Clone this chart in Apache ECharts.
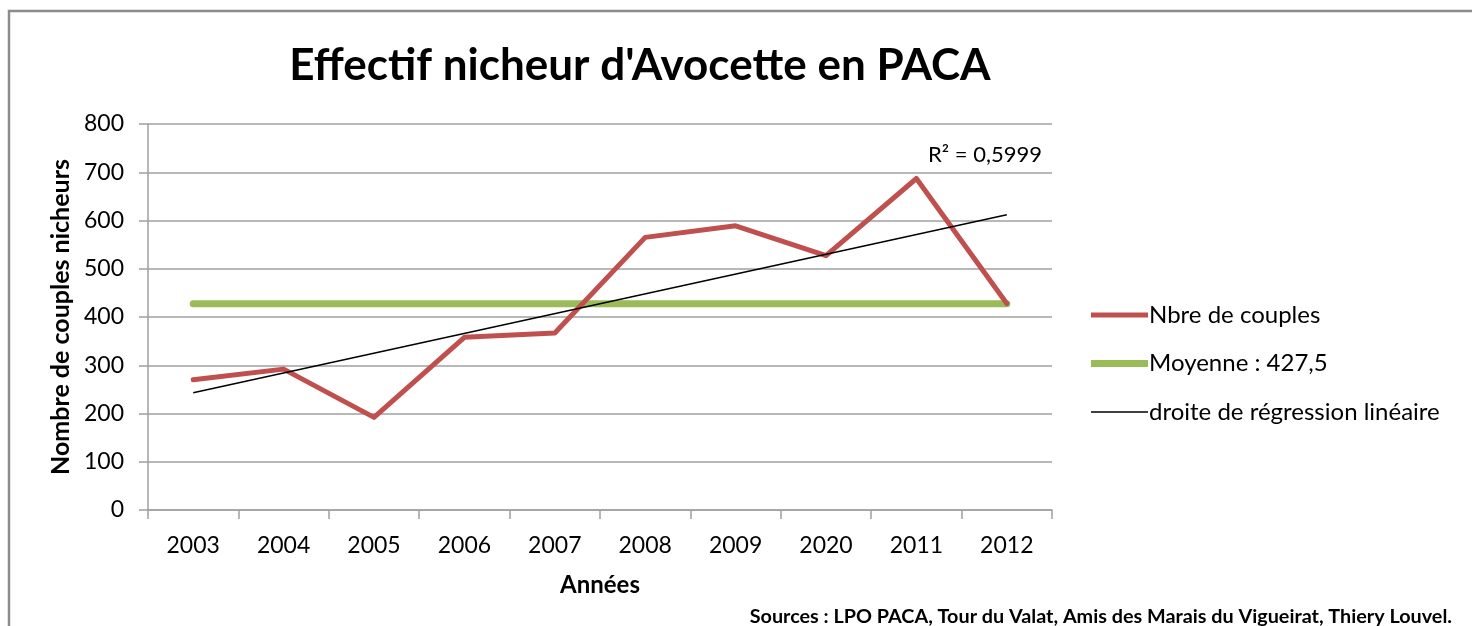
<!DOCTYPE html>
<html>
<head>
<meta charset="utf-8">
<script src="https://cdn.jsdelivr.net/npm/echarts@6/dist/echarts.min.js"></script>
<style>
  html, body { margin: 0; padding: 0; background: #fff; }
  #chart { width: 1472px; height: 626px; }
</style>
</head>
<body>
<div id="chart"></div>
<script>
  // annees (le 2020 est tel quel dans l'original)
  var years = ['2003', '2004', '2005', '2006', '2007', '2008', '2009', '2020', '2011', '2012'];
  // nombre de couples nicheurs
  var couples = [270, 292, 192, 358, 367, 565, 589, 527, 687, 428];
  var moyenne = 427.5;
  // droite de regression : valeurs lues au debut et a la fin
  var regStart = 243;
  var regEnd = 612;
  var yTicks = [0, 100, 200, 300, 400, 500, 600, 700, 800];

  var font = 'Lato';
  var grey = '#a0a0a0';

  var myChart = echarts.init(document.getElementById('chart'));
  option = {
    animation: false,
    backgroundColor: '#fff',
    title: {
      text: "Effectif nicheur d'Avocette en PACA",
      left: 635,
      textAlign: 'center',
      top: 39,
      textStyle: { fontFamily: font, fontWeight: 'bold', fontSize: 44, color: '#000' }
    },
    legend: {
      orient: 'vertical',
      left: 1086,
      top: 298,
      itemWidth: 57,
      itemHeight: 14,
      itemGap: 24.5,
      symbolKeepAspect: true,
      textStyle: { fontFamily: font, fontSize: 24, color: '#000', padding: [0, 0, 0, -4] },
      data: [
        { name: 'Nbre de couples', icon: 'path://M0,0 H57 V5 H0 Z', itemStyle: { color: '#c0504d' } },
        { name: 'Moyenne : 427,5', icon: 'path://M0,0 H57 V7 H0 Z', itemStyle: { color: '#9bbb59' } },
        { name: 'droite de régression linéaire', icon: 'path://M0,0 H57 V1.5 H0 Z', itemStyle: { color: '#000' } }
      ]
    },
    grid: {
      left: 148,
      top: 124,
      right: 420,
      bottom: 116
    },
    xAxis: [{
      type: 'category',
      data: years,
      boundaryGap: true,
      name: 'Années',
      nameLocation: 'middle',
      nameGap: 63,
      nameTextStyle: { fontFamily: font, fontWeight: 'bold', fontSize: 24, color: '#000' },
      axisLine: { lineStyle: { color: grey, width: 1.5 } },
      axisTick: { show: true, length: 9, lineStyle: { color: grey, width: 1.5 } },
      axisLabel: { fontFamily: font, fontSize: 23, color: '#000', margin: 24 }
    }],
    yAxis: [{
      type: 'value',
      min: yTicks[0],
      max: yTicks[yTicks.length - 1],
      interval: 100,
      name: 'Nombre de couples nicheurs',
      nameLocation: 'middle',
      nameRotate: 90,
      nameGap: 74,
      nameTextStyle: { fontFamily: font, fontWeight: 'bold', fontSize: 25, color: '#000' },
      axisLine: { show: true, lineStyle: { color: grey, width: 1.5 } },
      axisTick: { show: true, length: 9, lineStyle: { color: grey, width: 1.5 } },
      axisLabel: { fontFamily: font, fontSize: 23, color: '#000', margin: 24 },
      splitLine: { lineStyle: { color: grey, width: 1.5 } }
    }],
    graphic: [
      {
        type: 'rect',
        shape: { x: 9, y: 11, width: 1500, height: 700 },
        style: { fill: 'none', stroke: '#8c8c8c', lineWidth: 2.5 },
        silent: true
      },
      {
        type: 'text',
        left: 928,
        top: 144,
        style: { text: 'R² = 0,5999', fontFamily: font, fontSize: 22, fill: '#000' }
      },
      {
        type: 'text',
        right: 20,
        top: 607,
        style: {
          text: 'Sources : LPO PACA, Tour du Valat, Amis des Marais du Vigueirat, Thiery Louvel.',
          fontFamily: font, fontWeight: 'bold', fontSize: 19.8, fill: '#000'
        }
      }
    ],
    series: [
      {
        name: 'Nbre de couples',
        type: 'line',
        data: couples,
        symbol: 'none',
        color: '#c0504d',
        lineStyle: { color: '#c0504d', width: 5, join: 'round', cap: 'round' },
        z: 3
      },
      {
        name: 'Moyenne : 427,5',
        type: 'line',
        data: [[0, moyenne], [years.length - 1, moyenne]],
        symbol: 'none',
        color: '#9bbb59',
        lineStyle: { color: '#9bbb59', width: 7, cap: 'round' },
        z: 2
      },
      {
        name: 'droite de régression linéaire',
        type: 'line',
        data: [[0, regStart], [years.length - 1, regEnd]],
        symbol: 'none',
        color: '#000',
        lineStyle: { color: '#000', width: 1.5 },
        z: 4
      }
    ]
  };
  myChart.setOption(option);
</script>
</body>
</html>
